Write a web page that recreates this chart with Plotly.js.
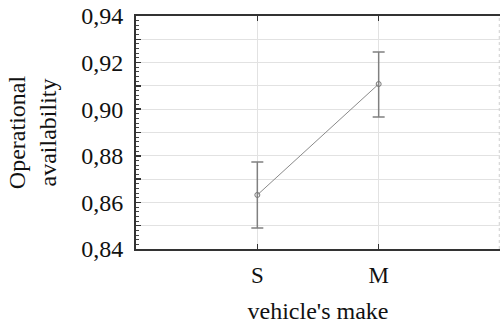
<!DOCTYPE html>
<html>
<head>
<meta charset="utf-8">
<script src="https://cdn.plot.ly/plotly-3.0.1.min.js"></script>
<style>html,body{margin:0;padding:0;background:#fff;}#chart{width:500px;height:330px;}</style>
</head>
<body>
<div id="chart"></div>
<script>
var categories = ['S', 'M'];
var means = [0.8632, 0.9108];
var upperErr = [0.0141, 0.0137];
var lowerErr = [0.0142, 0.0142];
var yTickVals = [0.84, 0.85, 0.86, 0.87, 0.88, 0.89, 0.90, 0.91, 0.92, 0.93, 0.94];
var yTickText = ['0,84', '', '0,86', '', '0,88', '', '0,90', '', '0,92', '', '0,94'];

var trace = {
  x: categories,
  y: means,
  type: 'scatter',
  mode: 'lines+markers',
  line: {color: '#8a8a8a', width: 1},
  marker: {symbol: 'circle-open', size: 5, color: '#777', line: {color: '#777', width: 1}},
  error_y: {type: 'data', symmetric: false, array: upperErr, arrayminus: lowerErr,
            color: '#808080', thickness: 1.5, width: 6},
  showlegend: false
};

var serif = 'Liberation Serif';
var layout = {
  width: 500, height: 330,
  margin: {l: 136, r: 0, t: 16, b: 81},
  paper_bgcolor: '#fff', plot_bgcolor: '#fff',
  separators: ',.',
  font: {family: serif, color: '#111'},
  xaxis: {
    type: 'category',
    range: [-1, 2],
    showgrid: true, gridcolor: '#e2e2e2', gridwidth: 1,
    zeroline: false,
    showline: true, linecolor: '#333', linewidth: 2,
    mirror: 'ticks',
    ticks: 'inside', ticklen: 5, tickcolor: '#333', tickwidth: 1.5,
    ticklabelstandoff: 4,
    tickfont: {family: serif, size: 23, color: '#111'},
    title: {text: "vehicle's make", font: {family: serif, size: 24, color: '#111'}, standoff: 16}
  },
  yaxis: {
    range: [0.84, 0.94],
    tickvals: yTickVals, ticktext: yTickText,
    showgrid: true, gridcolor: '#e2e2e2', gridwidth: 1,
    zeroline: false,
    showline: true, linecolor: '#333', linewidth: 2,
    ticks: 'inside', ticklen: 5, tickcolor: '#333', tickwidth: 1.5,
    ticklabelstandoff: 6,
    minor: {dtick: 0.002, ticks: 'inside', ticklen: 2.5, tickcolor: '#444', tickwidth: 1, showgrid: false},
    tickfont: {family: serif, size: 24, color: '#111'},
    title: {text: 'Operational<br>availability', font: {family: serif, size: 24, color: '#111'}, standoff: 18}
  },
  shapes: [{type: 'line', xref: 'paper', yref: 'paper', x0: 0.998, x1: 0.998, y0: 0, y1: 1,
            line: {color: '#cfcfcf', width: 1, dash: 'dot'}}]
};

Plotly.newPlot('chart', [trace], layout, {displayModeBar: false, staticPlot: true});
</script>
</body>
</html>
